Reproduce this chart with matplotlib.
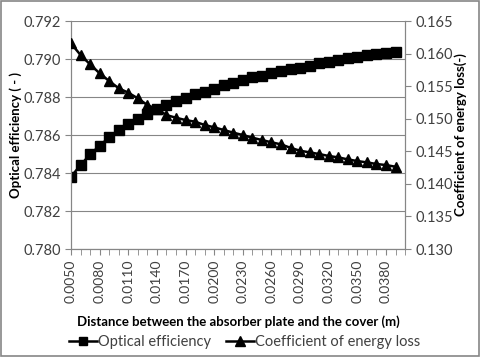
import matplotlib
matplotlib.use("Agg")
import matplotlib.pyplot as plt
from matplotlib.patches import Rectangle
from matplotlib.lines import Line2D

plt.rcParams["font.family"] = ["Lato", "DejaVu Sans"]

# ── data ─────────────────────────────────────────────────────
distance = [0.005 + 0.001 * i for i in range(35)]
optical_eff = [0.78381, 0.78442, 0.78498, 0.78544, 0.78588, 0.78626, 0.78656,
               0.78684, 0.78711, 0.78735, 0.78756, 0.78779, 0.78793, 0.78814,
               0.78828, 0.78842, 0.78863, 0.78875, 0.78889, 0.78904, 0.78912,
               0.78928, 0.78939, 0.78949, 0.78954, 0.78965, 0.78977, 0.78986,
               0.78995, 0.79004, 0.79012, 0.79021, 0.79026, 0.79033, 0.79037]
energy_loss = [0.16157, 0.15978, 0.15835, 0.15697, 0.15579, 0.15467, 0.15400,
               0.15313, 0.15210, 0.15149, 0.15057, 0.15015, 0.14980, 0.14954,
               0.14904, 0.14868, 0.14827, 0.14786, 0.14750, 0.14709, 0.14673,
               0.14638, 0.14607, 0.14553, 0.14509, 0.14484, 0.14458, 0.14428,
               0.14407, 0.14376, 0.14350, 0.14330, 0.14305, 0.14289, 0.14263]
left_ticks = [0.780, 0.782, 0.784, 0.786, 0.788, 0.790, 0.792]
right_ticks = [0.130, 0.135, 0.140, 0.145, 0.150, 0.155, 0.160, 0.165]

GRAY = "#868686"
TXT = "#404040"

fig = plt.figure(figsize=(4.8, 3.57), dpi=100)
fig.patches.append(Rectangle((0.002, 0.003), 0.996, 0.994, transform=fig.transFigure,
                             fill=False, edgecolor=GRAY, linewidth=1.2))
ax = fig.add_axes([0.148, 0.3025, 0.696, 0.6385])
ax2 = ax.twinx()

idx = list(range(len(distance)))
ax.plot(idx, optical_eff, color="black", lw=1.8, marker="s", ms=6.5, zorder=3)
ax2.plot(idx, energy_loss, color="black", lw=1.8, marker="^", ms=7.5, zorder=3)

ax.set_xlim(0, 35)
ax.set_ylim(0.780, 0.792)
ax.set_yticks(left_ticks)
ax.set_yticklabels([f"{v:.3f}" for v in left_ticks], fontsize=10.5, color=TXT)
ax2.set_ylim(0.130, 0.165)
ax2.set_yticks(right_ticks)
ax2.set_yticklabels([f"{v:.3f}" for v in right_ticks], fontsize=10.5, color=TXT)

ax.set_xticks(idx[::3])
ax.set_xticklabels([f"{distance[i]:.4f}" for i in idx[::3]], rotation=90,
                   fontsize=10, color=TXT)
ax.set_xticks(range(36), minor=True)
ax.tick_params(axis="x", which="both", length=4, color=GRAY, direction="out")
ax.tick_params(axis="y", length=4, color=GRAY)
ax2.tick_params(axis="y", length=4, color=GRAY)

ax.grid(axis="y", color=GRAY, lw=0.8)
for a in (ax, ax2):
    a.spines["top"].set_visible(False)
    for s in ("left", "right", "bottom"):
        a.spines[s].set_color(GRAY)

ax.set_xlabel("Distance between the absorber plate and the cover (m)",
              fontsize=9.5, fontweight="bold", labelpad=9)
ax.set_ylabel("Optical efficiency ( - )", fontsize=9.5, fontweight="bold", labelpad=1)
ax2.set_ylabel("Coefficient of energy loss(-)", fontsize=9.5, fontweight="bold", labelpad=1)

handles = [Line2D([], [], color="black", lw=1.8, marker="s", ms=5.5),
           Line2D([], [], color="black", lw=1.8, marker="^", ms=6.5)]
leg = fig.legend(handles, ["Optical efficiency", "Coefficient of energy loss"],
                 loc="center", bbox_to_anchor=(0.51, 0.042), ncol=2, frameon=False,
                 fontsize=10.5, handlelength=1.9, handletextpad=0.1, columnspacing=1.0)
for t in leg.get_texts():
    t.set_color(TXT)

fig.savefig("out.png", dpi=100)
